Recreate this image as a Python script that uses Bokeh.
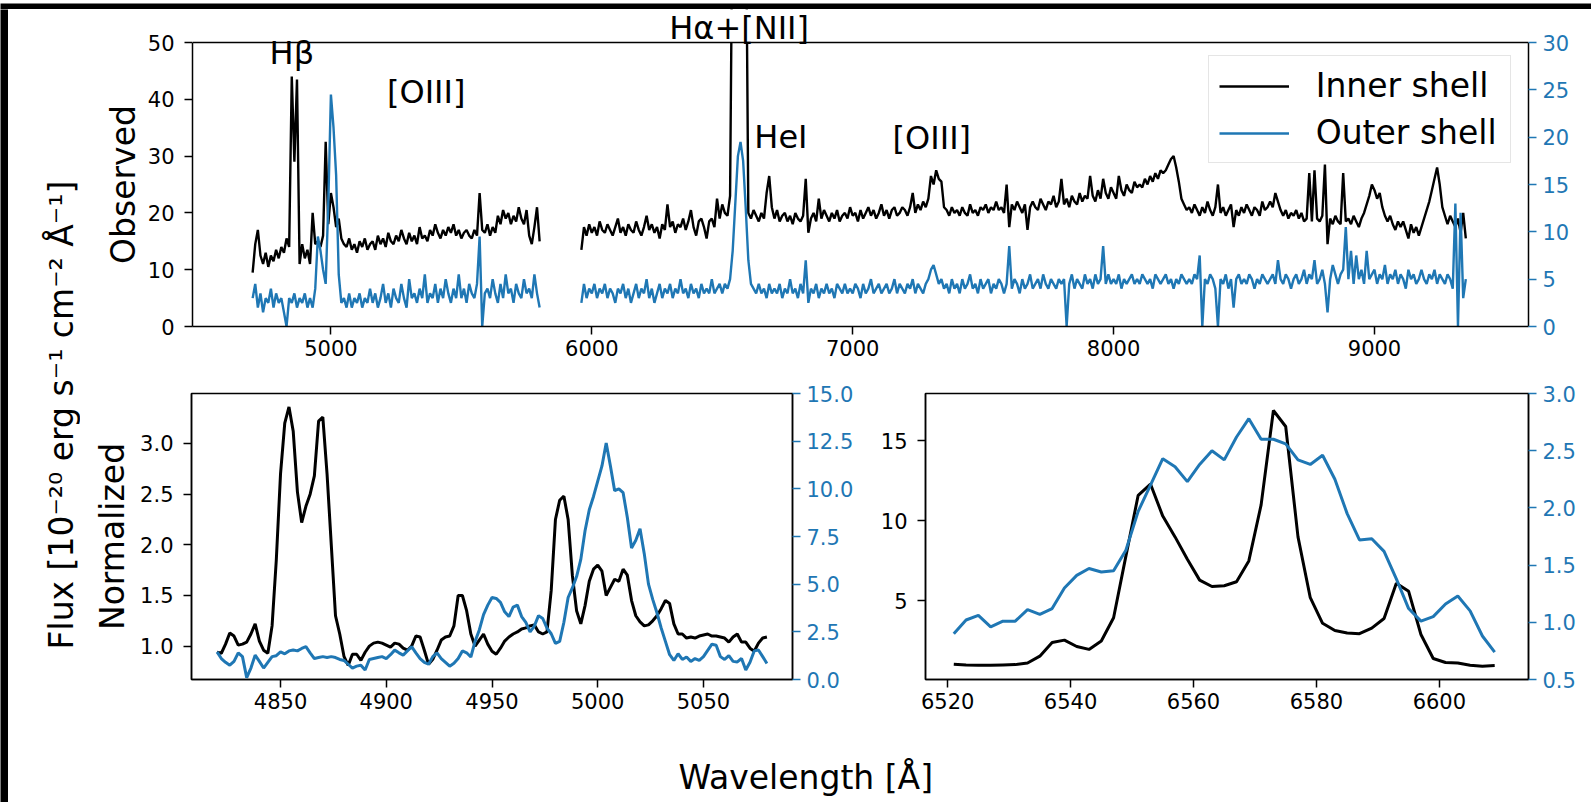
import numpy as np
from bokeh.plotting import figure
from bokeh.models import (Range1d, LinearAxis, FixedTicker, PrintfTickFormatter,
                          Legend, LegendItem, LabelSet, ColumnDataSource, Span, BoxAnnotation)
from bokeh.layouts import column, row
from bokeh.core.properties import value
from bokeh.embed import file_html
from bokeh.resources import INLINE

BLUE = "#1f77b4"
FONT = "DejaVu Sans"

# ---------------- top panel: observed spectra (10 A sampling) ----------------
obs_a_start = 4700
obs_b_start = 5960
obs_step = 10

inner_obs_a = [
    9.5, 14.5, 17.0, 12.5, 11.0, 13.0, 10.5, 12.5, 11.5, 13.5,
    12.0, 14.0, 13.0, 15.5, 14.0, 44.0, 29.0, 43.5, 11.0, 14.5,
    12.0, 13.5, 11.0, 20.0, 14.5, 15.0, 14.0, 16.0, 32.5, 18.0,
    23.5, 21.0, 17.5, 19.0, 15.5, 14.5, 14.0, 15.5, 13.5, 14.5,
    13.0, 15.0, 14.0, 15.5, 13.5, 14.5, 15.0, 13.5, 16.0, 14.5,
    15.5, 14.0, 16.5, 15.0, 14.5, 16.0, 15.0, 17.0, 15.5, 14.5,
    16.5, 15.0, 16.0, 14.5, 17.5, 15.5, 16.0, 15.0, 17.0, 16.0,
    18.0, 16.5, 15.5, 17.0, 16.0, 17.5, 16.5, 18.0, 16.0, 17.0,
    15.5, 16.5, 17.0, 16.0, 15.5, 17.0, 16.0, 23.5, 17.0, 16.5,
    18.0, 16.0, 17.5, 16.5, 19.5, 18.0, 20.5, 19.0, 20.0, 18.0,
    19.5, 18.5, 21.0, 19.0, 18.0, 20.5, 16.0, 14.5, 17.5, 21.0,
    15.0,
]
outer_obs_a = [
    3.0, 4.5, 2.0, 3.5, 1.5, 3.0, 2.5, 4.0, 2.0, 3.5,
    2.5, 3.0, 1.5, 0.0, 3.0, 2.5, 3.5, 2.0, 3.0, 2.5,
    3.5, 2.0, 3.0, 2.0, 4.0, 9.5, 8.0, 6.0, 4.5, 13.0,
    24.5, 21.0, 16.0, 5.5, 2.5, 3.0, 2.0, 3.5, 2.0, 3.0,
    2.5, 3.5, 2.0, 3.0, 2.5, 4.0, 2.5, 3.5, 2.0, 3.0,
    4.5, 2.5, 3.5, 2.0, 4.0, 3.0, 2.5, 4.5, 3.0, 2.0,
    5.0, 3.0, 3.5, 2.5, 4.0, 3.0, 5.5, 2.5, 3.5, 3.0,
    4.5, 2.5, 4.0, 3.0, 5.0, 3.5, 2.5, 4.0, 3.0, 5.5,
    3.0, 4.0, 2.5, 4.5, 3.5, 3.0, 4.5, 9.5, 0.0, 3.5,
    4.0, 3.0, 5.0, 3.5, 2.5, 4.5, 3.0, 5.5, 3.5, 4.0,
    2.5, 4.5, 3.5, 3.0, 5.0, 3.5, 4.0, 3.0, 5.5, 3.5,
    2.0,
]
inner_obs_b = [
    13.5, 17.5, 16.0, 18.0,
    16.5, 17.5, 16.0, 18.5, 17.0, 16.5, 18.0, 17.0, 16.0, 17.5,
    19.0, 16.5, 17.5, 16.0, 18.0, 17.0, 16.5, 18.5, 17.0, 16.0,
    17.5, 19.5, 17.0, 18.0, 16.5, 17.5, 15.5, 18.0, 17.0, 21.5,
    17.5, 18.5, 16.5, 18.0, 17.5, 19.0, 17.0, 18.5, 20.5, 17.5,
    16.0, 18.5, 19.0, 17.5, 15.5, 18.5, 19.0, 17.5, 22.5, 19.0,
    21.5, 20.0, 19.5, 23.0, 80.0, 150.0, 100.0, 150.0, 120.0, 80.0,
    20.0, 19.0, 20.5, 19.5, 18.5, 20.0, 19.0, 23.5, 26.5, 21.0,
    19.0, 20.5, 18.5, 19.5, 20.0, 18.5, 19.5, 18.0, 20.0, 19.0,
    18.5, 19.5, 26.0, 16.5, 19.0, 20.0, 18.5, 22.5, 19.0, 20.5,
    19.5, 18.5, 20.0, 19.0, 20.5, 18.5, 19.5, 20.0, 19.0, 21.0,
    19.5, 20.0, 18.5, 20.5, 19.0, 20.0, 21.0, 19.5, 20.5, 19.0,
    20.0, 21.5, 19.5, 20.5, 19.0, 20.5, 21.0, 19.5, 20.0, 21.0,
    20.5, 19.5, 21.0, 23.5, 20.0, 21.5, 20.5, 22.0, 21.0, 22.5,
    26.5, 25.0, 27.5, 26.0, 25.5, 21.0, 20.5, 19.5, 21.0, 20.0,
    20.5, 19.5, 21.0, 20.0, 19.5, 21.5, 20.0, 20.5, 19.5, 21.0,
    20.5, 21.5, 20.0, 21.0, 20.5, 22.0, 20.5, 21.0, 20.0, 25.0,
    17.5, 21.5, 20.5, 22.0, 21.0, 20.0, 21.5, 17.0, 21.0, 22.0,
    21.0, 20.5, 22.5, 21.5, 20.5, 22.0, 21.5, 23.0, 21.0, 22.0,
    26.0, 21.5, 22.5, 21.0, 23.0, 22.0, 21.5, 23.5, 22.0, 23.0,
    22.5, 26.5, 23.0, 22.0, 24.0, 22.5, 26.0, 23.5, 22.5, 24.5,
    23.5, 22.5, 26.5, 24.0, 23.0, 25.0, 24.0, 23.5, 25.5, 24.5,
    25.0, 24.5, 26.0, 25.0, 26.5, 25.5, 27.0, 26.0, 27.5, 27.0,
    27.5, 28.5, 29.5, 30.0, 28.0, 25.5, 22.5, 21.5, 20.5, 21.0,
    20.0, 21.5, 20.5, 19.5, 21.0, 20.0, 22.0, 20.5, 19.5, 21.0,
    25.0, 20.0, 21.0, 19.5, 20.5, 21.5, 17.5, 20.5, 19.5, 21.0,
    20.0, 21.5, 20.5, 19.5, 21.0, 20.5, 19.5, 22.0, 20.5, 21.0,
    22.0, 21.0, 23.5, 22.0, 20.5, 19.5, 20.5, 19.0, 20.0, 19.5,
    20.5, 19.0, 20.0, 18.5, 19.0, 27.0, 18.5, 27.5, 19.0, 18.5,
    19.5, 28.5, 14.5, 19.0, 18.0, 19.5, 18.5, 18.0, 27.0, 18.5,
    19.0, 18.0, 19.5, 18.5, 17.5, 19.0, 20.0, 21.5, 23.0, 25.0,
    24.0, 22.5, 23.5, 21.0, 19.5, 18.5, 19.5, 18.0, 17.0, 18.5,
    17.5, 18.5, 17.0, 15.5, 18.0, 16.5, 17.5, 16.0, 17.5, 19.0,
    20.5, 22.0, 24.0, 26.0, 28.0, 25.0, 21.0, 19.5, 18.0, 19.5,
    18.5, 17.5, 19.0, 16.5, 20.0, 15.5,
]
outer_obs_b = [
    2.5, 4.5, 3.0, 4.0,
    3.5, 4.5, 3.0, 4.0, 3.5, 4.5, 3.0, 4.0, 3.5, 2.5,
    4.0, 3.5, 4.5, 3.0, 4.0, 2.5, 3.5, 4.5, 3.0, 4.0,
    3.5, 5.0, 3.0, 4.0, 2.5, 3.5, 4.5, 3.0, 4.0, 3.5,
    4.5, 3.0, 4.0, 3.5, 5.0, 3.5, 4.0, 3.0, 4.5, 3.5,
    4.0, 3.0, 4.5, 3.5, 4.0, 3.5, 5.0, 3.5, 4.0, 4.5,
    3.5, 4.5, 4.0, 5.0, 8.0, 13.0, 18.0, 19.5, 17.5, 12.5,
    7.0, 4.5, 4.0, 3.5, 4.5, 3.5, 4.0, 3.0, 4.5, 3.5,
    4.0, 3.5, 4.5, 3.0, 4.0, 3.5, 5.0, 3.5, 4.0, 3.0,
    4.5, 3.5, 7.0, 2.5, 4.0, 3.5, 4.5, 3.0, 4.0, 3.5,
    4.5, 3.5, 4.0, 3.0, 4.5, 4.0, 3.5, 4.5, 3.5, 4.0,
    3.5, 4.5, 4.0, 3.0, 4.5, 3.5, 4.0, 5.0, 3.5, 4.0,
    4.5, 3.5, 4.0, 4.5, 3.5, 4.0, 5.0, 3.5, 4.5, 4.0,
    3.5, 4.5, 4.0, 5.0, 3.5, 4.5, 4.0, 3.5, 4.5, 5.0,
    6.0, 6.5, 5.5, 4.5, 5.0, 4.0, 4.5, 3.5, 5.0, 4.0,
    4.5, 3.5, 5.0, 4.0, 4.5, 5.5, 4.0, 4.5, 3.5, 5.0,
    4.0, 4.5, 5.0, 3.5, 4.5, 4.0, 5.0, 4.5, 3.5, 4.5,
    8.5, 4.0, 5.0, 4.5, 3.5, 5.0, 4.0, 4.5, 5.5, 4.0,
    4.5, 5.0, 4.0, 5.5, 4.5, 4.0, 5.0, 4.5, 4.0, 5.0,
    4.5, 5.0, 0.0, 4.5, 5.5, 4.0, 5.0, 4.5, 4.0, 5.5,
    4.5, 5.0, 4.0, 5.5, 4.5, 5.0, 8.5, 4.5, 5.5, 4.5,
    5.0, 4.5, 5.5, 4.0, 5.0, 4.5, 5.0, 5.5, 4.5, 5.0,
    4.5, 5.5, 5.0, 4.5, 5.0, 4.0, 5.5, 5.0, 4.5, 5.0,
    5.5, 4.5, 5.0, 4.0, 5.0, 4.5, 5.5, 5.0, 4.5, 5.0,
    4.5, 5.5, 5.0, 7.5, 0.0, 5.0, 4.5, 5.5, 5.0, 4.0,
    0.0, 5.0, 4.5, 5.5, 4.0, 5.0, 2.0, 5.0, 5.5, 4.5,
    5.0, 4.5, 5.5, 5.0, 4.0, 5.0, 4.5, 5.5, 5.0, 4.5,
    5.0, 5.5, 4.5, 7.0, 5.0, 4.5, 5.5, 5.0, 4.0, 5.0,
    5.5, 4.5, 5.0, 6.0, 4.5, 5.5, 5.0, 7.0, 4.5, 5.0,
    6.0, 4.5, 1.5, 5.0, 6.5, 5.5, 4.5, 5.5, 6.0, 10.5,
    5.0, 8.0, 4.5, 7.5, 5.0, 6.0, 4.5, 8.0, 5.0, 5.5,
    6.0, 4.5, 5.5, 5.0, 6.5, 4.5, 5.5, 5.0, 6.0, 4.5,
    5.5, 5.0, 4.0, 6.0, 5.0, 5.5, 4.5, 5.0, 6.0, 5.0,
    4.5, 5.5, 5.0, 6.0, 4.5, 5.5, 5.0, 4.5, 5.5, 5.0,
    4.0, 13.0, 0.0, 12.0, 3.0, 5.0,
]
obs_xticks = [5000, 6000, 7000, 8000, 9000]
obs_left_ticks = [0, 10, 20, 30, 40, 50]
obs_right_ticks = [0, 5, 10, 15, 20, 25, 30]
OBS_LEFT_MAX = 50
OBS_RIGHT_MAX = 30

line_names = ["H\u03b2", "[OIII]", "H\u03b1+[NII]", "HeI", "[OIII]"]
line_name_x = [4765, 5215, 6297, 6623, 7153]
line_name_y = [46.3, 39.4, 50.6, 31.4, 31.2]

# ---------------- bottom-left: normalized H-beta / [OIII] (2 A sampling) ----------------
hb_start = 4820
hb_step = 2
inner_hb = [
    0.94, 0.93, 1.02, 1.13, 1.10, 1.01, 1.02, 1.04, 1.12, 1.22,
    1.05, 0.96, 0.93, 1.20, 1.85, 2.70, 3.20, 3.36, 3.12, 2.52,
    2.22, 2.38, 2.50, 2.68, 3.22, 3.26, 2.70, 2.00, 1.30, 1.12,
    0.90, 0.81, 0.92, 0.92, 0.86, 0.94, 1.00, 1.03, 1.04, 1.03,
    1.01, 0.99, 1.03, 1.02, 0.98, 0.96, 1.00, 1.10, 1.09, 0.96,
    0.82, 0.87, 0.96, 1.06, 1.09, 1.10, 1.20, 1.50, 1.50, 1.35,
    1.12, 1.00, 1.06, 1.12, 1.02, 0.95, 0.92, 0.98, 1.05, 1.09,
    1.12, 1.14, 1.17, 1.18, 1.20, 1.21, 1.14, 1.12, 1.14, 1.55,
    2.25, 2.44, 2.48, 2.25, 1.70, 1.35, 1.22, 1.40, 1.64, 1.76,
    1.80, 1.74, 1.50, 1.58, 1.66, 1.64, 1.76, 1.70, 1.45, 1.30,
    1.24, 1.20, 1.21, 1.25, 1.30, 1.37, 1.45, 1.42, 1.22, 1.12,
    1.12, 1.08, 1.09, 1.08, 1.10, 1.11, 1.12, 1.10, 1.10, 1.09,
    1.08, 1.04, 1.09, 1.12, 1.04, 1.04, 0.98, 0.95, 1.03, 1.08,
    1.09,
]
outer_hb = [
    1.45, 1.10, 0.90, 0.75, 0.95, 1.40, 1.20, 0.10, 0.60, 1.28,
    0.95, 0.60, 0.90, 1.20, 1.25, 1.45, 1.35, 1.50, 1.55, 1.50,
    1.63, 1.72, 1.40, 1.10, 1.15, 1.20, 1.15, 1.20, 1.15, 1.05,
    1.00, 0.80, 0.60, 0.70, 0.75, 0.50, 1.05, 1.10, 1.15, 1.20,
    1.10, 1.30, 1.54, 1.40, 1.28, 1.50, 1.72, 1.40, 1.10, 0.90,
    0.80, 1.20, 1.40, 1.10, 0.90, 0.70, 0.85, 1.10, 1.50, 1.40,
    1.18, 2.00, 2.60, 3.40, 3.90, 4.30, 4.25, 4.05, 3.55, 3.30,
    3.80, 3.90, 3.30, 3.00, 2.50, 2.80, 3.35, 3.20, 2.70, 2.40,
    1.90, 2.00, 3.00, 4.30, 4.80, 5.40, 6.30, 7.80, 8.90, 9.60,
    10.40, 11.20, 12.40, 11.20, 9.90, 10.00, 9.80, 8.50, 6.90, 7.30,
    7.90, 6.60, 5.00, 4.20, 3.50, 2.70, 2.00, 1.30, 1.00, 1.35,
    1.05, 1.18, 0.95, 1.10, 1.00, 1.20, 1.53, 1.85, 1.80, 1.20,
    1.05, 1.25, 0.95, 0.92, 1.10, 0.50, 0.90, 1.50, 1.55, 1.20,
    0.84,
]
hb_xticks = [4850, 4900, 4950, 5000, 5050]
hb_left_ticks = [1.0, 1.5, 2.0, 2.5, 3.0]
hb_right_ticks = [0.0, 2.5, 5.0, 7.5, 10.0, 12.5, 15.0]

# ---------------- bottom-right: normalized H-alpha + [NII] (2 A sampling) ----------------
ha_start = 6521
ha_step = 2
inner_ha = [
    1.05, 1.00, 0.98, 0.98, 1.00, 1.02, 1.12, 1.55, 2.40, 2.55,
    2.15, 1.97, 2.50, 3.95, 7.80, 11.6, 12.3, 10.3, 9.0, 7.6,
    6.3, 5.9, 5.95, 6.2, 7.5, 11.0, 16.9, 15.9, 9.0, 5.2,
    3.6, 3.15, 3.0, 2.95, 3.3, 3.9, 6.1, 5.6, 2.9, 1.4,
    1.15, 1.12, 0.98, 0.92, 0.96,
]
outer_ha = [
    0.90, 1.02, 1.06, 0.96, 1.01, 1.01, 1.11, 1.07, 1.12, 1.30,
    1.41, 1.47, 1.44, 1.45, 1.63, 1.97, 2.20, 2.43, 2.36, 2.23,
    2.38, 2.50, 2.42, 2.62, 2.78, 2.60, 2.60, 2.56, 2.42, 2.38,
    2.46, 2.25, 1.95, 1.72, 1.73, 1.62, 1.38, 1.12, 1.01, 1.05,
    1.16, 1.23, 1.10, 0.88, 0.74,
]
ha_xticks = [6520, 6540, 6560, 6580, 6600]
ha_left_ticks = [5, 10, 15]
ha_right_ticks = [0.5, 1.0, 1.5, 2.0, 2.5, 3.0]

flux_label = "Flux [10\u207b\u00b2\u2070 erg s\u207b\u00b9 cm\u207b\u00b2 \u00c5\u207b\u00b9]"
wave_label = "Wavelength [\u00c5]"
obs_label = "Observed"
norm_label = "Normalized"

TICK_FS = "21px"
LABEL_FS = "33px"


def style_axis(ax, tick_color="black", label_color="black", standoff=5):
    ax.axis_line_color = "black"
    ax.axis_line_width = 1.5
    ax.major_tick_line_color = tick_color
    ax.major_tick_line_width = 1.5
    ax.major_tick_in = 0
    ax.major_tick_out = 8
    ax.minor_tick_line_color = None
    ax.major_label_text_font = FONT
    ax.major_label_text_font_size = TICK_FS
    ax.major_label_text_color = label_color
    ax.major_label_standoff = standoff
    ax.axis_label_text_font = FONT
    ax.axis_label_text_font_size = LABEL_FS
    ax.axis_label_text_font_style = "normal"
    ax.axis_label_text_color = "black"


def panel(width, height, xr, yr, b_left, b_right, b_top, b_bottom):
    p = figure(width=width, height=height, x_range=xr, y_range=yr, tools="",
               toolbar_location=None, output_backend="svg",
               min_border_left=b_left, min_border_right=b_right,
               min_border_top=b_top, min_border_bottom=b_bottom)
    p.xgrid.visible = False
    p.ygrid.visible = False
    p.outline_line_color = "black"
    p.outline_line_width = 1.5
    p.outline_line_alpha = 1.0
    p.background_fill_color = "white"
    p.border_fill_color = "white"
    return p


def blank(width, height, color, xr=None, yr=None, b_left=0, b_right=0, b_top=0, b_bottom=0):
    b = figure(width=width, height=height,
               x_range=xr if xr is not None else Range1d(0, width),
               y_range=yr if yr is not None else Range1d(0, height),
               tools="", toolbar_location=None, output_backend="svg",
               min_border_left=b_left, min_border_right=b_right,
               min_border_top=b_top, min_border_bottom=b_bottom,
               x_axis_location=None, y_axis_location=None)
    b.xgrid.visible = False
    b.ygrid.visible = False
    b.outline_line_color = None
    b.background_fill_color = color
    b.border_fill_color = color
    return b


def text_set(p, x, y, text, angle=0.0, align="left"):
    src = ColumnDataSource(dict(x=[x], y=[y], text=[text]))
    p.add_layout(LabelSet(x="x", y="y", text="text", source=src, angle=angle,
                          text_align=align, text_baseline="alphabetic",
                          text_font=value(FONT), text_font_size=value(LABEL_FS),
                          text_color="black"))


def grid_x(start, step, n):
    return start + step * np.arange(n)


# ---------------- top panel ----------------
# The frame reaches up to the top of the canvas so that the line names above the
# axes box stay visible; the axes box itself is drawn at 0..50 (left) / 0..30 (right).
TOP_X0, TOP_X1 = 4469.5, 9590.3
TOP_FRAME_H = 317.0        # canvas top to x axis
TOP_AXES_H = 284.0         # height of the drawn axes box
top_ymax = OBS_LEFT_MAX * TOP_FRAME_H / TOP_AXES_H
top_rmax = OBS_RIGHT_MAX * TOP_FRAME_H / TOP_AXES_H

top = panel(1447, 362, Range1d(TOP_X0, TOP_X1), Range1d(0, top_ymax), 48, 63, 0, 45)
top.outline_line_color = None
top.extra_y_ranges = {"outer": Range1d(0, top_rmax)}
xa = top.below[0]
ya = top.left[0]
xa.ticker = FixedTicker(ticks=obs_xticks)
ya.ticker = FixedTicker(ticks=obs_left_ticks)
ya.bounds = (0, OBS_LEFT_MAX)
style_axis(xa)
style_axis(ya, standoff=10)
ra = LinearAxis(y_range_name="outer", ticker=FixedTicker(ticks=obs_right_ticks),
                bounds=(0, OBS_RIGHT_MAX))
style_axis(ra, BLUE, BLUE, standoff=6)
top.add_layout(ra, "right")

obs_x = np.concatenate([grid_x(obs_a_start, obs_step, len(inner_obs_a)), [np.nan],
                        grid_x(obs_b_start, obs_step, len(inner_obs_b))])
inner_y = np.concatenate([inner_obs_a, [np.nan], inner_obs_b])
outer_y = np.concatenate([outer_obs_a, [np.nan], outer_obs_b])
r_in = top.line(obs_x, inner_y, line_color="black", line_width=2.4)
r_out = top.line(obs_x, outer_y, line_color=BLUE, line_width=2.4, y_range_name="outer")

# hide whatever rises above the axes box, then draw the box's top edge
top.add_layout(BoxAnnotation(bottom=OBS_LEFT_MAX, fill_color="white", fill_alpha=1.0,
                             line_color=None))
top.add_layout(Span(location=OBS_LEFT_MAX, dimension="width", line_color="black",
                    line_width=1.5))

ann_src = ColumnDataSource(dict(x=line_name_x, y=line_name_y, text=line_names))
top.add_layout(LabelSet(x="x", y="y", text="text", source=ann_src,
                        text_font=value(FONT), text_font_size=value("32px"),
                        text_color="black", text_align="left", text_baseline="alphabetic"))

legend = Legend(items=[LegendItem(label="Inner shell", renderers=[r_in]),
                       LegendItem(label="Outer shell", renderers=[r_out])],
                location=(1015.7, 162.7), padding=10, spacing=8,
                glyph_width=70, glyph_height=38, label_height=38, label_width=184,
                label_standoff=27,
                label_text_font=FONT, label_text_font_size=LABEL_FS, label_text_color="black",
                border_line_color="#cccccc", border_line_width=1.5,
                background_fill_color="white", background_fill_alpha=0.8)
top.add_layout(legend)

# y label of the top panel, centred on the 0..50 axis (page x 80..144)
obs_fig = blank(64, 362, "white", xr=Range1d(80, 144), yr=Range1d(0, top_ymax),
                b_top=0, b_bottom=45)
text_set(obs_fig, 134, OBS_LEFT_MAX / 2, obs_label, angle=np.pi / 2, align="center")

# ---------------- bottom-left panel ----------------
bl = panel(790, 354, Range1d(4807.9, 5092.1), Range1d(0.671, 3.493), 111, 78, 22, 46)
bl.extra_y_ranges = {"outer": Range1d(0, 15)}
bx = bl.below[0]
by = bl.left[0]
bx.ticker = FixedTicker(ticks=hb_xticks)
by.ticker = FixedTicker(ticks=hb_left_ticks)
by.formatter = PrintfTickFormatter(format="%.1f")
by.axis_label = norm_label
style_axis(bx)
style_axis(by, standoff=10)
by.axis_label_standoff = 5
bra = LinearAxis(y_range_name="outer", ticker=FixedTicker(ticks=hb_right_ticks),
                 formatter=PrintfTickFormatter(format="%.1f"))
style_axis(bra, BLUE, BLUE, standoff=6)
bl.add_layout(bra, "right")
hb_x = grid_x(hb_start, hb_step, len(inner_hb))
bl.line(hb_x, inner_hb, line_color="black", line_width=3)
bl.line(hb_x, outer_hb, line_color=BLUE, line_width=3, y_range_name="outer")

# ---------------- bottom-right panel ----------------
br = panel(721, 354, Range1d(6516.4, 6614.5), Range1d(0.09, 17.96), 55, 63, 22, 46)
br.extra_y_ranges = {"outer": Range1d(0.5, 3.0)}
cx = br.below[0]
cy = br.left[0]
cx.ticker = FixedTicker(ticks=ha_xticks)
cy.ticker = FixedTicker(ticks=ha_left_ticks)
style_axis(cx)
style_axis(cy, standoff=10)
cra = LinearAxis(y_range_name="outer", ticker=FixedTicker(ticks=ha_right_ticks),
                 formatter=PrintfTickFormatter(format="%.1f"))
style_axis(cra, BLUE, BLUE, standoff=6)
br.add_layout(cra, "right")
ha_x = grid_x(ha_start, ha_step, len(inner_ha))
br.line(ha_x, inner_ha, line_color="black", line_width=3)
br.line(ha_x, outer_ha, line_color=BLUE, line_width=3, y_range_name="outer")

# ---------------- shared labels ----------------
flux = blank(72, 793, "white")
text_set(flux, 64, 153, flux_label, angle=np.pi / 2, align="left")

# x label strip: page x 80..1591, frame borders chosen like the top panel's
xlab = blank(1511, 77, "white", xr=Range1d(132, 1528), b_left=52, b_right=63)
text_set(xlab, 678, 14, wave_label, align="left")

layout = column(
    blank(1591, 9, "black"),
    row(blank(8, 793, "black"), flux,
        column(row(obs_fig, top), row(bl, br), xlab)),
)

open("out.html", "w").write(file_html(layout, INLINE))
